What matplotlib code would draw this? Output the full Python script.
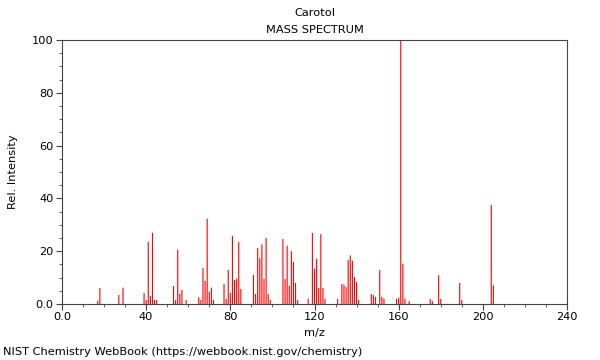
import matplotlib
matplotlib.use("Agg")
import matplotlib.pyplot as plt
from matplotlib.ticker import MultipleLocator, FixedLocator, FixedFormatter

mz = [17, 18, 27, 29, 39, 40, 41, 42, 43, 44, 45,
      53, 54, 55, 56, 57, 59,
      65, 66, 67, 68, 69, 70, 71, 72,
      77, 78, 79, 80, 81, 82, 83, 84, 85,
      91, 92, 93, 94, 95, 96, 97, 98, 99,
      105, 106, 107, 108, 109, 110, 111, 112,
      117, 119, 120, 121, 122, 123, 124, 125,
      131, 133, 134, 135, 136, 137, 138, 139, 140, 141,
      147, 148, 149, 151, 152, 153,
      159, 160, 161, 162, 163, 165,
      175, 176, 179, 180, 189, 190, 204, 205]
intensity = [1.2, 6.0, 3.4, 6.2, 4.2, 1.5, 23.5, 3.0, 27.0, 1.5, 1.5,
             6.8, 1.5, 20.6, 3.8, 5.3, 1.5,
             2.6, 1.5, 13.6, 8.7, 32.3, 4.7, 6.2, 1.5,
             7.6, 1.9, 12.9, 4.3, 25.8, 9.1, 9.6, 23.5, 5.7,
             11.0, 3.8, 21.2, 17.3, 22.6, 9.5, 25.0, 3.8, 1.5,
             24.6, 9.5, 22.1, 6.9, 20.0, 15.9, 8.0, 1.5,
             2.0, 26.9, 13.4, 17.2, 6.0, 26.5, 6.0, 2.0,
             1.9, 7.6, 7.3, 6.4, 16.7, 18.4, 16.4, 10.2, 8.3, 1.5,
             3.8, 3.4, 2.7, 12.9, 2.7, 2.0,
             1.9, 2.3, 100.0, 15.2, 2.0, 1.1,
             1.9, 1.1, 10.9, 1.9, 8.0, 1.5, 37.5, 7.1]

x_ticks = [0, 40, 80, 120, 160, 200, 240]
x_labels = ["0.0", "40", "80", "120", "160", "200", "240"]
y_ticks = [0, 20, 40, 60, 80, 100]
y_labels = ["0.0", "20", "40", "60", "80", "100"]

fig = plt.figure(figsize=(6, 3.6), dpi=100)
ax = fig.add_axes([62/600, 1-304/360, 505/600, 264/360])
ax.vlines(mz, 0, intensity, colors="#ff0000", linewidth=0.8, snap=False, zorder=1)
ax.set_xlim(0, 240)
ax.set_ylim(0, 100)

ax.xaxis.set_major_locator(FixedLocator(x_ticks))
ax.xaxis.set_major_formatter(FixedFormatter(x_labels))
ax.xaxis.set_minor_locator(MultipleLocator(10))
ax.yaxis.set_major_locator(FixedLocator(y_ticks))
ax.yaxis.set_major_formatter(FixedFormatter(y_labels))
ax.yaxis.set_minor_locator(MultipleLocator(5))

spine_c = "#444444"
for s in ax.spines.values():
    s.set_color(spine_c)
    s.set_linewidth(0.8)
ax.tick_params(which="major", length=4, width=0.8, color=spine_c, labelsize=8.2, pad=2)
ax.tick_params(which="minor", length=2, width=0.6, color=spine_c)

ax.set_xlabel("m/z", fontsize=8.2, labelpad=4)
ax.set_ylabel("Rel. Intensity", fontsize=8.2, labelpad=10)

fig.text(315/600, 1-13/360, "Carotol", ha="center", va="center", fontsize=8.2)
fig.text(315/600, 1-30/360, "MASS SPECTRUM", ha="center", va="center", fontsize=8.2)
fig.text(3/600, 1-352/360, "NIST Chemistry WebBook (https://webbook.nist.gov/chemistry)",
         ha="left", va="center", fontsize=8.2)

fig.savefig("out.png", dpi=100)
